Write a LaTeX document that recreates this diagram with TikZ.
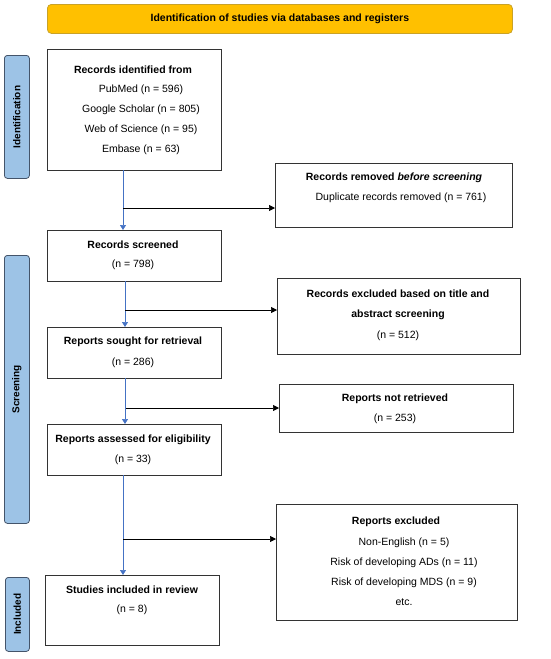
\documentclass[tikz,border=0pt]{standalone}
\usepackage{fontspec}
\setmainfont{Liberation Sans}
\usetikzlibrary{arrows.meta}
\definecolor{hdrfill}{HTML}{FFC000}
\definecolor{hdrdraw}{HTML}{C9A227}
\definecolor{sidefill}{HTML}{9DC3E6}
\definecolor{sidedraw}{HTML}{44546A}
\definecolor{arrowblue}{HTML}{4472C4}
\begin{document}
\begin{tikzpicture}[x=1pt,y=-1pt,
  box/.style={draw=black!80, line width=0.8pt, anchor=north west, inner sep=0pt},
  txt/.style={align=center, inner sep=0pt, font=\fontsize{10.5}{20}\selectfont},
  btxt/.style={txt, font=\bfseries\fontsize{10.5}{20}\selectfont},
  sidebox/.style={draw=sidedraw, fill=sidefill, rounded corners=3pt, line width=0.8pt, anchor=north west, inner sep=0pt},
  sidetxt/.style={rotate=90, inner sep=0pt, font=\bfseries\fontsize{10}{12}\selectfont},
  downarrow/.style={draw=arrowblue, line width=0.7pt, -{Triangle[length=5pt,width=6pt]}},
  outarrow/.style={draw=black, line width=0.7pt, -{Triangle[length=6pt,width=6pt]}}
]
\useasboundingbox (0,0) rectangle (550,659);

% header
\node[draw=hdrdraw, fill=hdrfill, rounded corners=4pt, line width=0.8pt, anchor=north west, inner sep=0pt,
      minimum width=465pt, minimum height=29pt] (hdr) at (47,4) {};
\node[btxt] (hdrt) at (hdr.center) {Identification of studies via databases and registers};

% side labels
\node[sidebox, minimum width=25pt, minimum height=123pt] (s1) at (4,55) {};
\node[sidetxt] (s1t) at (s1.center) {Identification};
\node[sidebox, minimum width=25pt, minimum height=268pt] (s2) at (4,255) {};
\node[sidetxt] (s2t) at (s2.center) {Screening};
\node[sidebox, minimum width=24pt, minimum height=74pt] (s3) at (5,577) {};
\node[sidetxt] (s3t) at (s3.center) {Included};

% boxes
\node[box, minimum width=174pt, minimum height=121pt] (b1) at (47,49) {};
\node[btxt] (b1a) at (133,70) {Records identified from};
\node[txt] (b1b) at (141,120) {PubMed (n = 596)\\Google Scholar (n = 805)\\Web of Science (n = 95)\\Embase (n = 63)};

\node[box, minimum width=237pt, minimum height=64pt] (b2) at (275,163) {};
\node[btxt] (b2a) at (394,178) {Records removed \textit{before screening}};
\node[txt] (b2b) at (401,198) {Duplicate records removed (n = 761)};

\node[box, minimum width=174pt, minimum height=51pt] (b3) at (47,230) {};
\node[btxt] (b3a) at (133,245) {Records screened};
\node[txt] (b3b) at (133,265) {(n = 798)};

\node[box, minimum width=243pt, minimum height=76pt] (b4) at (277,278) {};
\node[btxt] (b4a) at (398,305) {Records excluded based on title and\\abstract screening};
\node[txt] (b4b) at (398,336) {(n = 512)};

\node[box, minimum width=174pt, minimum height=51pt] (b5) at (47,327) {};
\node[btxt] (b5a) at (133,342) {Reports sought for retrieval};
\node[txt] (b5b) at (133,363) {(n = 286)};

\node[box, minimum width=234pt, minimum height=48pt] (b6) at (279,384) {};
\node[btxt] (b6a) at (395,399) {Reports not retrieved};
\node[txt] (b6b) at (395,419) {(n = 253)};

\node[box, minimum width=174pt, minimum height=51pt] (b7) at (47,424) {};
\node[btxt] (b7a) at (133,440) {Reports assessed for eligibility};
\node[txt] (b7b) at (133,460) {(n = 33)};

\node[box, minimum width=241pt, minimum height=116pt] (b8) at (276,504) {};
\node[btxt] (b8a) at (396,522) {Reports excluded};
\node[txt] (b8b) at (404,572) {Non-English (n = 5)\\Risk of developing ADs (n = 11)\\Risk of developing MDS (n = 9)\\etc.};

\node[box, minimum width=174pt, minimum height=70pt] (b9) at (45,575) {};
\node[btxt] (b9a) at (132,590) {Studies included in review};
\node[txt] (b9b) at (132,610) {(n = 8)};

% connectors
\coordinate (v1) at (123,170);
\coordinate (v2) at (125,281);
\coordinate (v3) at (125,378);
\coordinate (v4) at (123,475);
\draw[downarrow] (v1) -- (v1 |- b3.north);
\draw[downarrow] (v2) -- (v2 |- b5.north);
\draw[downarrow] (v3) -- (v3 |- b7.north);
\draw[downarrow] (v4) -- (v4 |- b9.north);

\coordinate (h1) at (123,208);
\coordinate (h2) at (125,310);
\coordinate (h3) at (126,408);
\coordinate (h4) at (123,539);
\draw[outarrow] (h1) -- (h1 -| b2.west);
\draw[outarrow] (h2) -- (h2 -| b4.west);
\draw[outarrow] (h3) -- (h3 -| b6.west);
\draw[outarrow] (h4) -- (h4 -| b8.west);
\end{tikzpicture}
\end{document}
